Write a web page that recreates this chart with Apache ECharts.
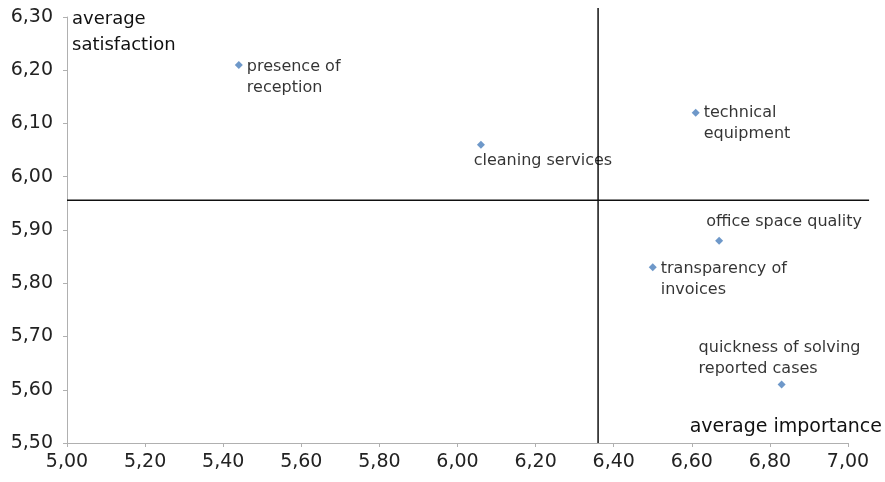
<!DOCTYPE html>
<html>
<head>
<meta charset="utf-8">
<script src="https://cdn.jsdelivr.net/npm/echarts@6/dist/echarts.min.js"></script>
<style>html,body{margin:0;padding:0;background:#fff}#c{width:885px;height:482px}</style>
</head>
<body>
<div id="c"></div>
<script>
// Data
const names = ['presence of\nreception', 'cleaning services', 'technical\nequipment', 'office space quality', 'transparency of\ninvoices', 'quickness of solving\nreported cases'];
const importance = [5.44, 6.06, 6.61, 6.67, 6.50, 6.83];
const satisfaction = [6.21, 6.06, 6.12, 5.88, 5.83, 5.61];
const xRange = [5.00, 7.00, 0.20];
const yRange = [5.50, 6.30, 0.10];
const avgImportance = 6.36;
const avgSatisfaction = 5.956;
const hLineEndX = 7.054;
const vLineTopY = 6.317;

// label placement per point (style only)
const labelCfg = [
  {position: 'right', offset: [0, 12], distance: 4},
  {position: 'bottom', offset: [62, -3]},
  {position: 'right', offset: [0, 10], distance: 4},
  {position: 'top', offset: [65, 1]},
  {position: 'right', offset: [0, 12], distance: 4},
  {position: 'top', align: 'left', offset: [-83, 4]}
];

const font = 'DejaVu Sans';
const fmt = v => v.toFixed(2).replace('.', ',');

const data = names.map((n, i) => ({
  name: n,
  value: [importance[i], satisfaction[i]],
  label: Object.assign({show: true}, labelCfg[i])
}));

// quadrant divider segments: [x1, y1, x2, y2]
const quadSegments = [
  [xRange[0], avgSatisfaction, hLineEndX, avgSatisfaction],
  [avgImportance, yRange[0], avgImportance, vLineTopY]
];

const chart = echarts.init(document.getElementById('c'), null, {renderer: 'canvas'});
chart.setOption({
  animation: false,
  grid: {left: 67, right: 37, top: 17, bottom: 39, containLabel: false},
  xAxis: {
    type: 'value', min: xRange[0], max: xRange[1], interval: xRange[2],
    name: 'average importance', nameLocation: 'end', nameGap: 34,
    nameTextStyle: {fontFamily: font, fontSize: 19, color: '#111', align: 'right', verticalAlign: 'bottom', padding: [0, 0, 6, 0]},
    axisLine: {show: true, lineStyle: {color: '#b0b0b0', width: 1}},
    axisTick: {show: true, length: 4, lineStyle: {color: '#b0b0b0'}},
    splitLine: {show: false},
    axisLabel: {formatter: fmt, fontFamily: font, fontSize: 19, color: '#222', margin: 10}
  },
  yAxis: {
    type: 'value', min: yRange[0], max: yRange[1], interval: yRange[2],
    name: 'average\nsatisfaction', nameLocation: 'end', nameGap: 11,
    nameTextStyle: {fontFamily: font, fontSize: 18, color: '#111', align: 'left', verticalAlign: 'top', lineHeight: 26, padding: [0, 0, 0, 5]},
    axisLine: {show: true, lineStyle: {color: '#b0b0b0', width: 1}},
    axisTick: {show: true, length: 4, lineStyle: {color: '#b0b0b0'}},
    splitLine: {show: false},
    axisLabel: {formatter: fmt, fontFamily: font, fontSize: 19, color: '#222', margin: 14}
  },
  series: [
    {
      type: 'custom',
      clip: false,
      silent: true,
      z: 1,
      data: quadSegments,
      renderItem: function (params, api) {
        const a = api.coord([api.value(0), api.value(1)]);
        const b = api.coord([api.value(2), api.value(3)]);
        return {
          type: 'line',
          shape: {x1: a[0], y1: a[1], x2: b[0], y2: b[1]},
          style: {stroke: '#111', lineWidth: 1.5}
        };
      }
    },
    {
      type: 'scatter',
      symbol: 'diamond',
      symbolSize: 8,
      clip: false,
      z: 3,
      itemStyle: {color: '#4a7ebb'},
      label: {show: true, formatter: '{b}', fontFamily: font, fontSize: 16, color: '#000', lineHeight: 21},
      data: data
    }
  ]
});
</script>
</body>
</html>
